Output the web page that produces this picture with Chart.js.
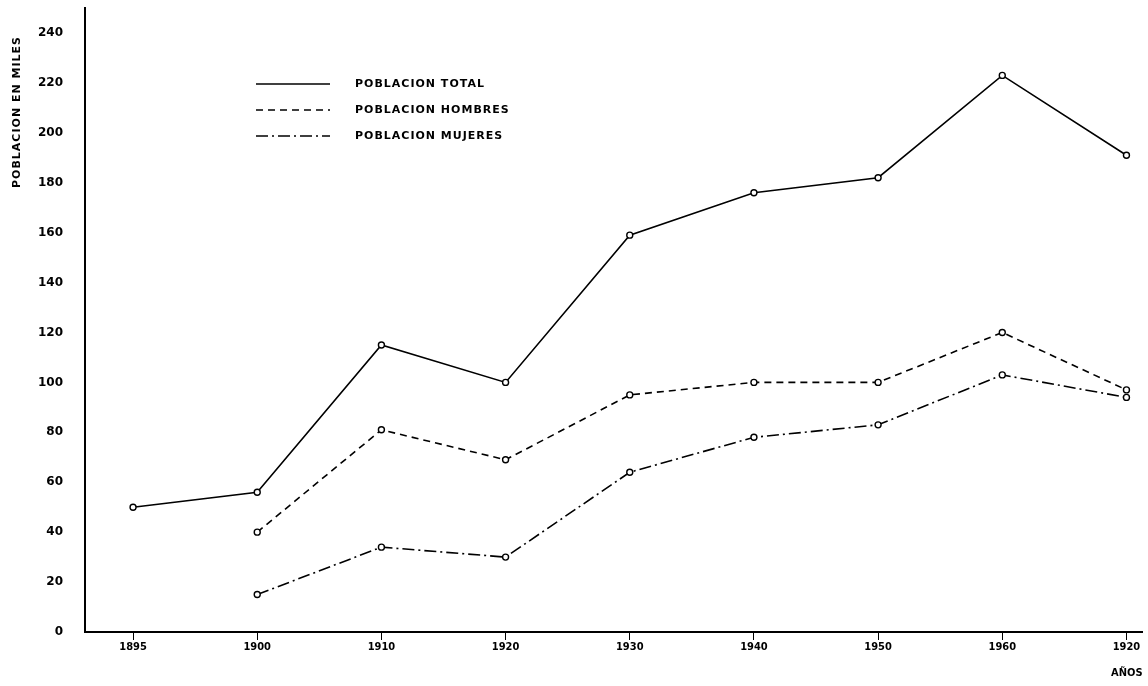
<!DOCTYPE html>
<html>
<head>
<meta charset="utf-8">
<script src="https://cdn.jsdelivr.net/npm/chart.js@4"></script>
<style>
  html, body { margin: 0; padding: 0; background: #fff; overflow: hidden; }
  canvas { display: block; }
</style>
</head>
<body>
<canvas id="poblacionChart" width="1148" height="686"></canvas>
<script>
const years = ['1895', '1900', '1910', '1920', '1930', '1940', '1950', '1960', '1920'];
const total = [50, 56, 115, 100, 159, 176, 182, 223, 191];
const hombres = [null, 40, 81, 69, 95, 100, 100, 120, 97];
const mujeres = [null, 15, 34, 30, 64, 78, 83, 103, 94];
const yTicks = [0, 20, 40, 60, 80, 100, 120, 140, 160, 180, 200, 220, 240];

const FONT = '"DejaVu Sans", sans-serif';
const FONT_COND = '"DejaVu Sans Condensed", "DejaVu Sans", sans-serif';

function toPoints(arr) {
    return arr.map((v, i) => ({ x: i, y: v }));
}

function lineSet(label, values, dash) {
    return {
        label: label,
        data: toPoints(values),
        borderColor: '#000',
        backgroundColor: '#fff',
        borderWidth: 1.6,
        borderDash: dash,
        pointRadius: 3,
        pointBorderWidth: 1.4,
        pointBorderColor: '#000',
        pointBackgroundColor: '#fff',
        spanGaps: false,
        tension: 0
    };
}

// legend + y title drawn where the original has them
const floatingText = {
    id: 'floatingText',
    afterDraw(chart) {
        const c = chart.ctx;
        c.save();
        c.fillStyle = '#000';
        c.strokeStyle = '#000';
        c.font = 'bold 11px ' + FONT;
        c.letterSpacing = '1px';
        c.textBaseline = 'middle';
        chart.data.datasets.forEach((ds, i) => {
            const y = 84 + i * 26;
            c.lineWidth = 1.6;
            c.setLineDash(ds.borderDash || []);
            c.beginPath();
            c.moveTo(256, y);
            c.lineTo(330, y);
            c.stroke();
            c.setLineDash([]);
            c.fillText(ds.label, 355, y);
        });

        c.translate(17, 112);
        c.rotate(-Math.PI / 2);
        c.textAlign = 'center';
        c.font = 'bold 11px ' + FONT;
        c.fillText('POBLACION EN MILES', 0, 0);
        c.restore();
    }
};

new Chart(document.getElementById('poblacionChart').getContext('2d'), {
    type: 'line',
    data: {
        datasets: [
            lineSet('POBLACION TOTAL', total, []),
            lineSet('POBLACION HOMBRES', hombres, [7, 5]),
            lineSet('POBLACION MUJERES', mujeres, [12, 4, 2, 4])
        ]
    },
    options: {
        responsive: false,
        animation: false,
        layout: { padding: 0 },
        plugins: { legend: { display: false }, tooltip: { enabled: false } },
        scales: {
            x: {
                type: 'linear',
                min: -0.387,
                max: 8.13,
                afterBuildTicks: (s) => { s.ticks = years.map((_, i) => ({ value: i })); },
                afterFit: (s) => { s.height = 54; s.paddingLeft = 0; s.paddingRight = 0; },
                ticks: {
                    callback: (v) => years[v],
                    color: '#000',
                    font: { family: FONT_COND, size: 11, weight: 'bold' },
                    padding: 1,
                    maxRotation: 0
                },
                grid: { drawOnChartArea: false, color: '#000', tickLength: 8, lineWidth: 1 },
                border: { color: '#000', width: 2 },
                title: {
                    display: true,
                    text: 'AÑOS',
                    align: 'end',
                    color: '#000',
                    font: { family: FONT_COND, size: 11, weight: 'bold' },
                    padding: { top: 4, bottom: 6 }
                }
            },
            y: {
                min: 0,
                max: 250,
                afterBuildTicks: (s) => { s.ticks = yTicks.map((v) => ({ value: v })); },
                afterFit: (s) => { s.width = 85; s.paddingTop = 8; s.paddingBottom = 0; },
                ticks: {
                    color: '#000',
                    font: { family: FONT, size: 12, weight: 'bold' },
                    padding: 22
                },
                grid: { display: true, drawOnChartArea: false, drawTicks: false },
                border: { color: '#000', width: 2 }
            }
        }
    },
    plugins: [floatingText]
});
</script>
</body>
</html>
